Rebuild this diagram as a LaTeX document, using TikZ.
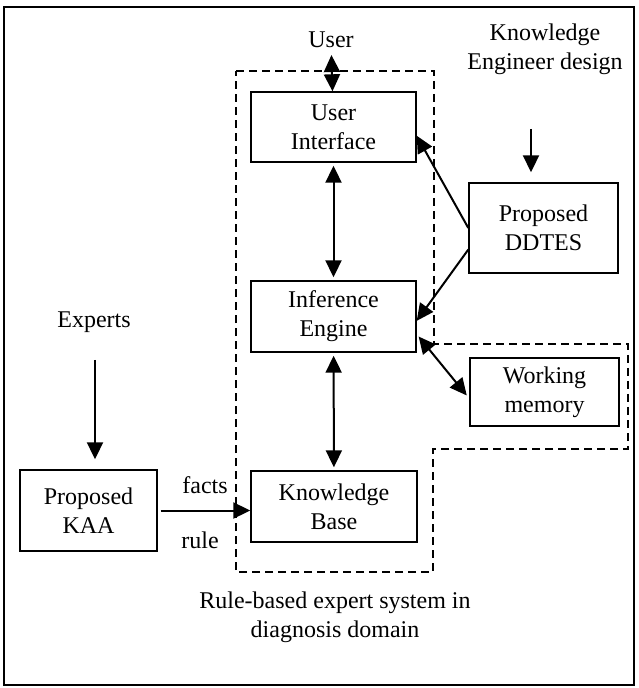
\documentclass[tikz,border=0pt]{standalone}
\usepackage{fontspec}
\setmainfont{Liberation Serif}
\usetikzlibrary{arrows.meta}

\begin{document}
\begin{tikzpicture}[x=0.5pt,y=-0.5pt]
\tikzset{box/.style = {draw, line width=0.7pt, align=center, inner sep=0pt,
  font=\fontsize{12}{14.5}\selectfont}}
\tikzset{lbl/.style = {align=center, font=\fontsize{12}{14.5}\selectfont}}
\tikzset{edge/.style = {-{Triangle[length=8.5pt,width=8pt]}, line width=1pt}}
\tikzset{dedge/.style = {{Triangle[length=8.5pt,width=8pt]}-{Triangle[length=8.5pt,width=8pt]}, line width=1pt}}
\tikzset{region/.style = {line width=0.7pt, dash pattern=on 4pt off 2.5pt}}

\useasboundingbox (0,0) rectangle (638,688);
\draw[line width=0.7pt] (4,7) rectangle (634,685);

% dashed border of the expert system
\draw[region] (236,71) -- (434,71) -- (434,344) -- (628,344) -- (628,449)
  -- (433,449) -- (433,572) -- (236,572) -- cycle;

\node[box, minimum width=82.5pt, minimum height=35pt] (ui) at (333.5,127) {User\\Interface};
\node[box, minimum width=82.5pt, minimum height=35.5pt] (ie) at (333.5,316.5) {Inference\\Engine};
\node[box, minimum width=83pt, minimum height=35.5pt] (kb) at (334,506.5) {Knowledge\\Base};
\node[box, minimum width=68.5pt, minimum height=40.5pt] (kaa) at (88.5,510.5) {Proposed\\KAA};
\node[box, minimum width=74.5pt, minimum height=45pt] (ddtes) at (543.5,228) {Proposed\\DDTES};
\node[box, minimum width=74.5pt, minimum height=34pt] (wm) at (544.5,392) {Working\\memory};

\node[lbl] (user) at (331,40) {User};
\node[lbl] (eng) at (545,49) {Knowledge\\Engineer design};
\node[lbl] (exp) at (94,322) {Experts};
\node[lbl] (cap) at (335,617) {Rule-based expert system in\\diagnosis domain};

\coordinate (engtail) at (531,129);
\coordinate (exptail) at (95,360);

\draw[dedge] (user) to (ui);
\draw[dedge, shorten <=1.5pt, shorten >=1.5pt] (ui) to (ie);
\draw[dedge, shorten <=1.5pt, shorten >=1.5pt] (ie) to (kb);
\draw[edge, shorten >=5pt] (exptail) to (exptail |- kaa.north);
\draw[edge, shorten >=5pt] (engtail) to (engtail |- ddtes.north);
\draw[edge, shorten <=1.5pt] (kaa.east) to (kaa.east -| kb.west);
\draw[edge] (ddtes.west) to (ui.354);
\draw[edge] (ddtes.196) to (ie.357);
\draw[dedge, shorten <=1.5pt, shorten >=2pt] (ie.348) to (wm.185);

\node[lbl] at (205,485) {facts};
\node[lbl] at (200,540) {rule};

\end{tikzpicture}
\end{document}
